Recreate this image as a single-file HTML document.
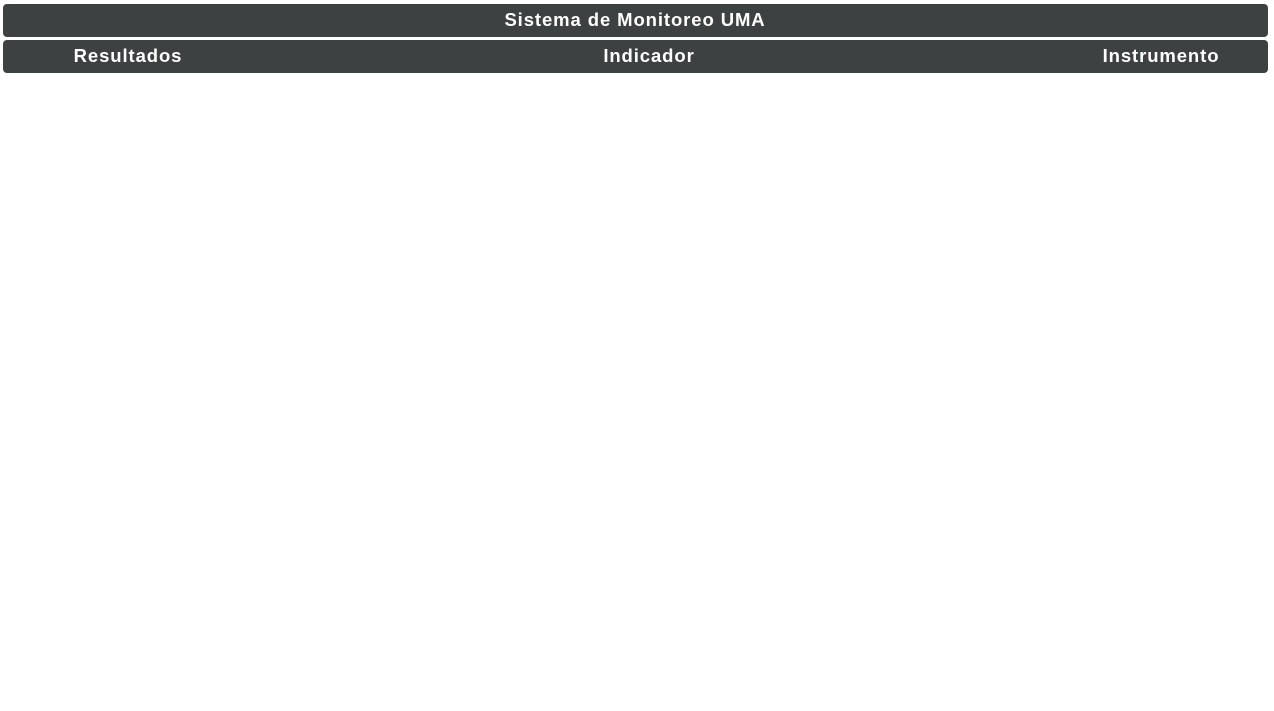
<!DOCTYPE html>
<html><head><style>
body{margin:0;width:1274px;height:711px;background:#fff;position:relative;font-family:"Liberation Sans",sans-serif;overflow:hidden}
.b{position:absolute;left:3px;width:1265px;background:#3d4142;border-radius:4px;color:#fff;font-weight:bold;font-size:18.5px;letter-spacing:0.9px}
.t{position:absolute;top:0;line-height:32px;transform:translateX(-50%);white-space:nowrap}
</style></head><body>
<div class="b" style="top:4px;height:33px"><span class="t" style="left:632px">Sistema de Monitoreo UMA</span></div>
<div class="b" style="top:40px;height:33px"><span class="t" style="left:125px">Resultados</span><span class="t" style="left:646px">Indicador</span><span class="t" style="left:1158px">Instrumento</span></div>
</body></html>
